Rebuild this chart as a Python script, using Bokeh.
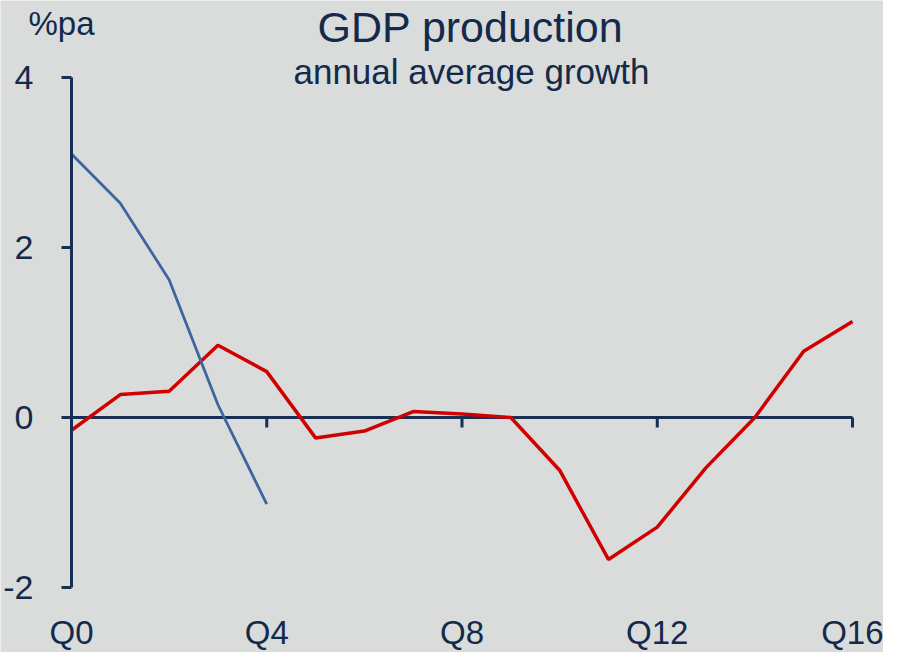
from bokeh.plotting import figure
from bokeh.models import FixedTicker, Range1d, Label
from bokeh.embed import file_html
from bokeh.resources import INLINE

# ---- data ----
quarters_blue = [0, 1, 2, 3, 4]
blue_vals = [3.1, 2.52, 1.62, 0.15, -1.02]

quarters_red = list(range(17))
red_vals = [-0.15, 0.27, 0.31, 0.85, 0.54, -0.24, -0.16, 0.07, 0.04, 0.0,
            -0.62, -1.67, -1.29, -0.59, 0.0, 0.78, 1.13]

x_ticks = [0, 4, 8, 12, 16]
x_labels = ["Q0", "Q4", "Q8", "Q12", "Q16"]
y_ticks = [-2, 0, 2, 4]
y_labels = ["-2", "0", "2", "4"]

title_text = "GDP production"
subtitle_text = "annual average growth"
unit_text = "%pa"

NAVY = "#172f55"
TEXT = "#132a4a"
BG = "#d9dcdb"
FONT = "Liberation Sans"

W, H = 883, 652
X0_PX = 71          # pixel column of Q0 / the value axis
PX_X = 781 / 16.0   # pixels per quarter
Y4_PX = 77          # pixel row of the value 4
PX_Y = 85.0         # pixels per unit


def yval(py):
    return 4 + (Y4_PX - py) / PX_Y


def xval(px):
    return (px - X0_PX) / PX_X


p = figure(width=W, height=H, output_backend="svg",
           toolbar_location=None, min_border_left=0, min_border_right=0,
           min_border_top=0, min_border_bottom=0,
           x_range=Range1d(xval(0), xval(W)),
           y_range=Range1d(yval(H), yval(0)))
p.background_fill_color = BG
p.border_fill_color = BG
p.outline_line_color = None
p.xgrid.visible = False
p.ygrid.visible = False

# left axis, pinned at x = 0
ya = p.yaxis[0]
ya.fixed_location = 0
ya.ticker = FixedTicker(ticks=y_ticks)
ya.major_label_overrides = {t: l for t, l in zip(y_ticks, y_labels)}
ya.bounds = (-2, 4)
ya.axis_line_color = NAVY
ya.axis_line_width = 3
ya.major_tick_line_color = NAVY
ya.major_tick_line_width = 3
ya.major_tick_out = 10
ya.major_tick_in = 0
ya.minor_tick_line_color = None
ya.major_label_standoff = 28
ya.major_label_text_font = FONT
ya.major_label_text_font_size = "34px"
ya.major_label_text_color = TEXT

# bottom axis (labels only), pinned near the bottom
xa = p.xaxis[0]
xa.fixed_location = yval(613)
xa.ticker = FixedTicker(ticks=x_ticks)
xa.major_label_overrides = {t: l for t, l in zip(x_ticks, x_labels)}
xa.axis_line_color = None
xa.major_tick_line_color = None
xa.major_tick_out = 0
xa.major_tick_in = 0
xa.minor_tick_line_color = None
xa.major_label_standoff = 0
xa.major_label_text_font = FONT
xa.major_label_text_font_size = "33px"
xa.major_label_text_color = TEXT

# zero line and its downward ticks
p.segment(x0=[x_ticks[0]], y0=[0], x1=[x_ticks[-1]], y1=[0],
          line_color=NAVY, line_width=3)
tick_len = 10 / PX_Y
p.segment(x0=x_ticks[1:], y0=[0] * 4, x1=x_ticks[1:], y1=[-tick_len] * 4,
          line_color=NAVY, line_width=3)

# series
p.line(quarters_red, red_vals, line_color="#d10000", line_width=3.5)
p.line(quarters_blue, blue_vals, line_color="#3d65a0", line_width=2.8)

# texts
p.add_layout(Label(x=xval(470), y=yval(26), text=title_text, text_align="center",
                   text_baseline="middle", text_font=FONT,
                   text_font_size="43px", text_color=TEXT))
p.add_layout(Label(x=xval(471), y=yval(71), text=subtitle_text, text_align="center",
                   text_baseline="middle", text_font=FONT,
                   text_font_size="35px", text_color=TEXT))
p.add_layout(Label(x=xval(28), y=yval(23), text=unit_text, text_align="left",
                   text_baseline="middle", text_font=FONT,
                   text_font_size="33px", text_color=TEXT))

open("out.html", "w").write(file_html(p, INLINE))
